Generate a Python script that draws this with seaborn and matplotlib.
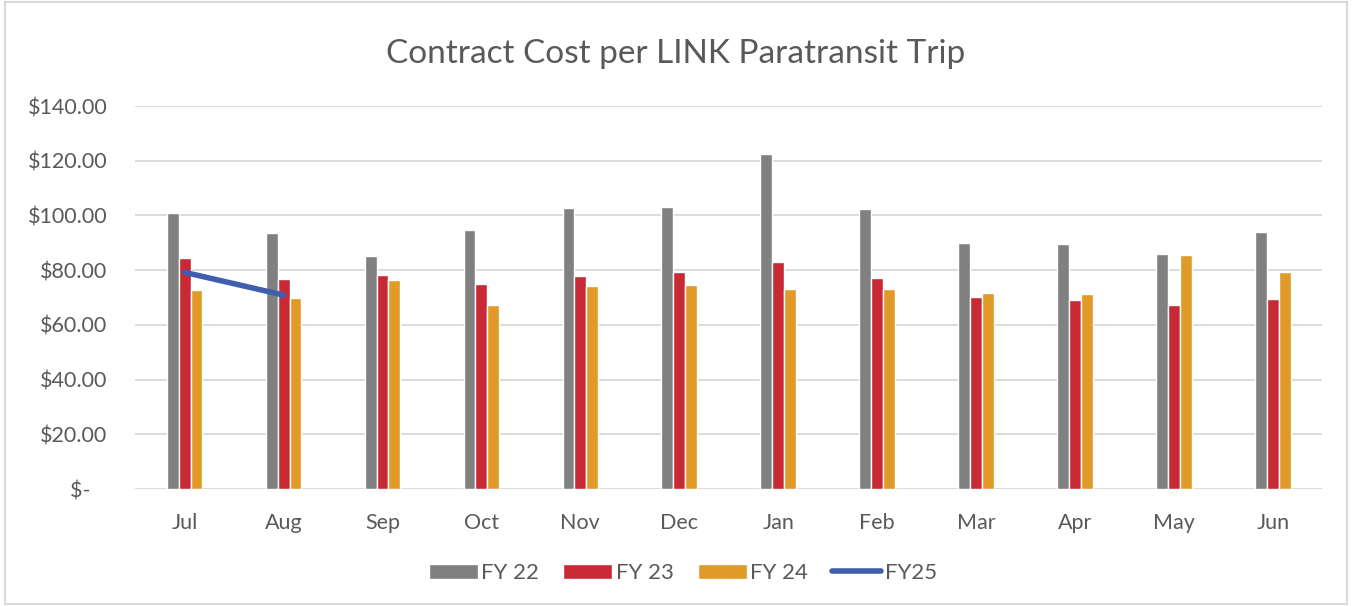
import numpy as np
import pandas as pd
import matplotlib
matplotlib.use('Agg')
import matplotlib.pyplot as plt
import seaborn as sns
from matplotlib.ticker import FuncFormatter

# Dados
months = ['Jul', 'Aug', 'Sep', 'Oct', 'Nov', 'Dec', 'Jan', 'Feb', 'Mar', 'Apr', 'May', 'Jun']
fy22 = [101.0, 93.6, 85.2, 94.7, 102.7, 103.1, 122.4, 102.3, 89.8, 89.6, 85.9, 94.0]
fy23 = [84.6, 76.9, 78.2, 75.0, 77.9, 79.2, 83.0, 77.2, 70.2, 69.1, 67.4, 69.5]
fy24 = [72.9, 69.9, 76.5, 67.3, 74.3, 74.6, 73.2, 73.3, 71.7, 71.4, 85.4, 79.3]
fy25 = [79.2, 70.9]

series_names = ['FY 22', 'FY 23', 'FY 24']
colors = ['#808080', '#C82A35', '#E09A27']
line_color = '#3F5FAE'

df = pd.DataFrame({
    'Month': months * 3,
    'Series': [s for s in series_names for _ in months],
    'Cost': fy22 + fy23 + fy24,
})

sns.set_style('white')
plt.rcParams['font.family'] = ['Lato', 'DejaVu Sans']

fig, ax = plt.subplots(figsize=(13.52, 6.06), dpi=100)
fig.subplots_adjust(left=0.1, right=0.978, top=0.825, bottom=0.193)

sns.barplot(data=df, x='Month', y='Cost', hue='Series', palette=colors,
            width=0.36, gap=0, saturation=1, ax=ax, zorder=3)

x25 = np.arange(len(fy25))
ax.plot(x25, fy25, color=line_color, linewidth=4, solid_capstyle='round', zorder=4, label='FY25')

ax.set_ylim(0, 140)
ax.set_yticks(np.arange(0, 141, 20))
ax.yaxis.set_major_formatter(FuncFormatter(lambda v, p: '$-   ' if v == 0 else f'${v:,.2f}'))
ax.set_xlim(-0.5, len(months) - 0.5)
ax.grid(axis='y', color='#D9D9D9', linewidth=1.3, zorder=0)
for s in ['top', 'right', 'left', 'bottom']:
    ax.spines[s].set_visible(False)
ax.tick_params(axis='both', length=0, labelsize=15.5, labelcolor='#595959')
ax.tick_params(axis='x', pad=17)
ax.tick_params(axis='y', pad=20)
ax.set_xlabel('')
ax.set_ylabel('')

fig.suptitle('Contract Cost per LINK Paratransit Trip', x=0.5, y=0.935, fontsize=24, color='#595959')

handles, labels = ax.get_legend_handles_labels()
ax.get_legend().remove()
fig.legend(handles, labels, loc='center', bbox_to_anchor=(0.505, 0.054), ncol=4,
           frameon=False, fontsize=16, labelcolor='#595959', handlelength=2.2,
           handleheight=0.7, columnspacing=1.1, handletextpad=0.15)

fig.patches.append(plt.Rectangle((0.004, 0.004), 0.992, 0.992, transform=fig.transFigure,
                                 fill=False, edgecolor='#D9D9D9', linewidth=1.5))

plt.savefig('out.png', dpi=100)
